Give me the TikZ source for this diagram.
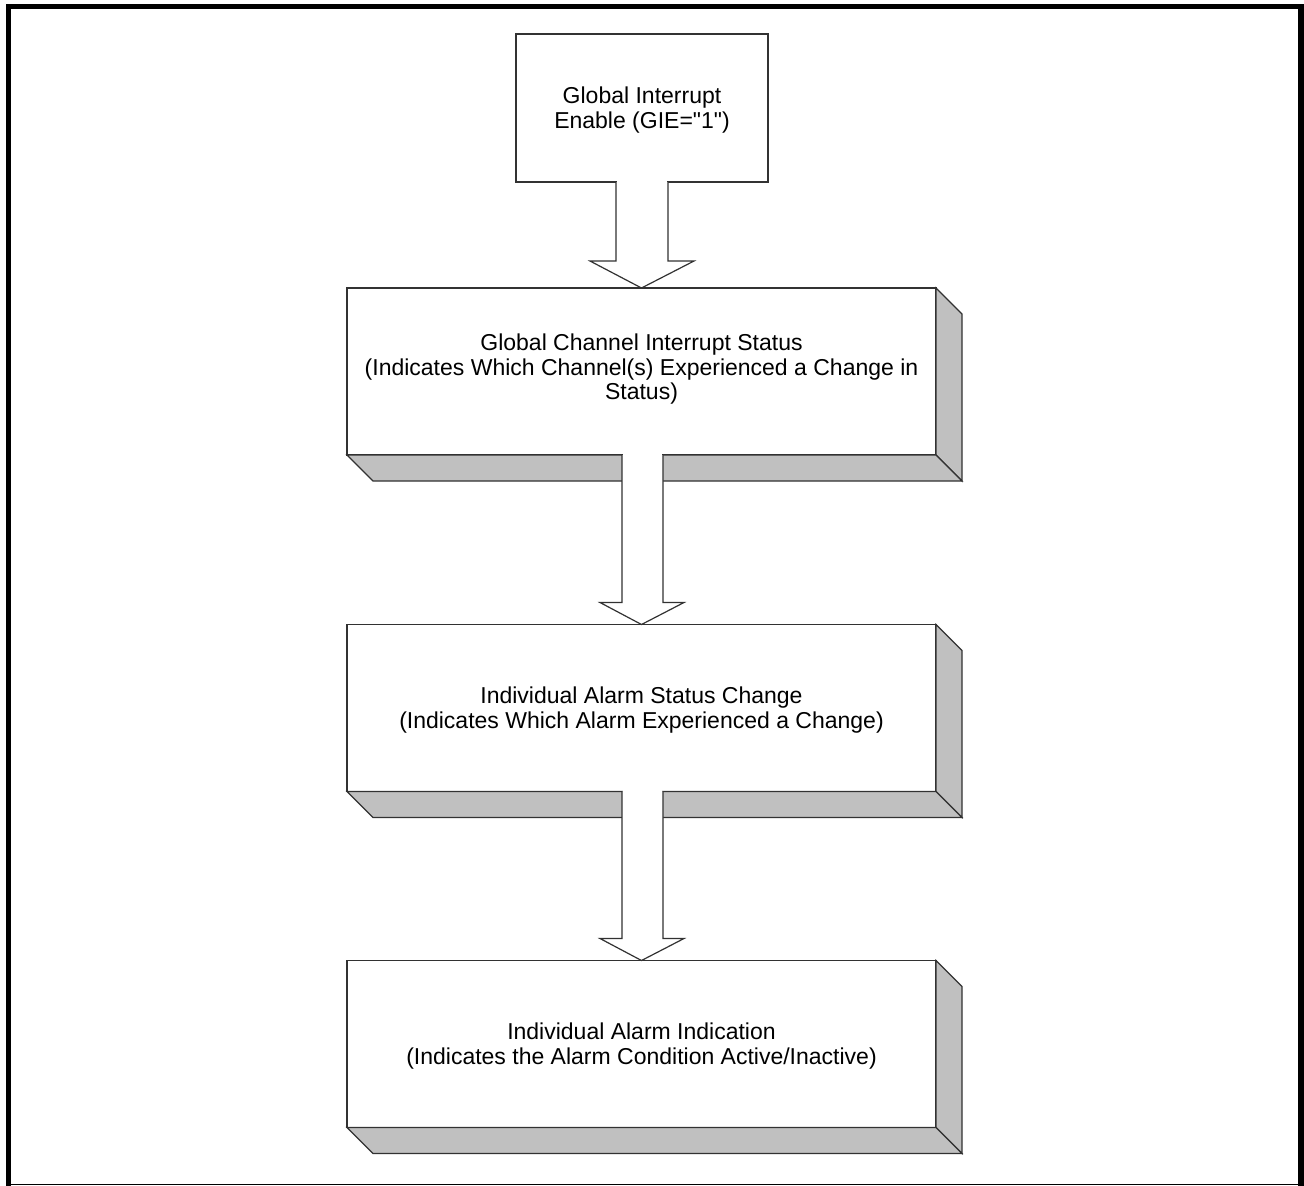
\documentclass[tikz,border=0pt]{standalone}
\usepackage{fontspec}
\newfontfamily\diagfont{Liberation Sans}
\usetikzlibrary{calc}
\definecolor{facegray}{RGB}{192,192,192}
\definecolor{edgecol}{RGB}{50,50,50}
\begin{document}
\begin{tikzpicture}[x=1pt,y=-1pt,line join=miter,
  frontbox/.style={draw=edgecol,line width=1.2pt,fill=white,rectangle,inner sep=0pt,outer sep=0pt},
  depthface/.style={draw=edgecol,line width=1.2pt,fill=facegray},
  label/.style={align=center,font=\diagfont\fontsize{23}{24.5}\selectfont,inner sep=0pt},
  blockarrow/.style={draw=edgecol,line width=1.2pt,fill=white}]
\useasboundingbox (0,0) rectangle (1304,1186);
\fill[white] (0,0) rectangle (1304,1186);
% frame
\fill[black] (6,4) rectangle (1304,9);
\fill[black] (6,4) rectangle (11,1186);
\fill[black] (1298,4) rectangle (1304,1186);
\draw[black,line width=1.5pt] (6,1184.5) -- (1304,1184.5);

% box 1 (flat)
\node[frontbox,minimum width=252pt,minimum height=148pt] (b1) at (642,108) {};
\node[label] (t1) at ($(b1.center)+(0,2)$) {Global Interrupt\\Enable (GIE="1")};

% 3D boxes
\foreach \n/\cy in {b2/371.5,b3/708,b4/1044}{
  \node[frontbox,minimum width=589pt,minimum height=167pt] (\n) at (641.5,\cy) {};
  \draw[depthface] (\n.north east) -- ++(26,26) -- ($(\n.south east)+(26,26)$) -- (\n.south east) -- cycle;
  \draw[depthface] (\n.south west) -- (\n.south east) -- ++(26,26) -- ($(\n.south west)+(26,26)$) -- cycle;
}
\node[label] (t2) at ($(b2.center)+(0,-2)$) {Global Channel Interrupt Status\\(Indicates Which Channel(s) Experienced a Change in\\Status)};
\node[label] (t3) at ($(b3.center)+(0,2)$) {Individual Alarm Status Change\\(Indicates Which Alarm Experienced a Change)};
\node[label] (t4) at ($(b4.center)+(0,2)$) {Individual Alarm Indication\\(Indicates the Alarm Condition Active/Inactive)};

% arrow b1 -> b2
\fill[white] ($(b1.south)+(-25.4,-2)$) rectangle ($(b1.south)+(25.4,2)$);
\draw[blockarrow] ($(b1.south)+(-26,0)$) -- ($(b2.north)+(-25.5,-27)$) -- ($(b2.north)+(-51.5,-27)$)
  -- (b2.north) -- ($(b2.north)+(52.5,-27)$) -- ($(b2.north)+(26.5,-27)$) -- ($(b1.south)+(26,0)$);

% arrow b2 -> b3
\fill[white] ($(b2.south)+(-19,-2)$) rectangle ($(b2.south)+(20,27)$);
\draw[blockarrow] ($(b2.south)+(-19.5,0)$) -- ($(b3.north)+(-19.5,-22)$) -- ($(b3.north)+(-41.5,-22)$)
  -- (b3.north) -- ($(b3.north)+(42.5,-22)$) -- ($(b3.north)+(21.5,-22)$) -- ($(b2.south)+(21.5,0)$);

% arrow b3 -> b4
\fill[white] ($(b3.south)+(-19,-2)$) rectangle ($(b3.south)+(20,27)$);
\draw[blockarrow] ($(b3.south)+(-19.5,0)$) -- ($(b4.north)+(-19.5,-22)$) -- ($(b4.north)+(-41.5,-22)$)
  -- (b4.north) -- ($(b4.north)+(42.5,-22)$) -- ($(b4.north)+(21.5,-22)$) -- ($(b3.south)+(21.5,0)$);
\end{tikzpicture}
\end{document}
